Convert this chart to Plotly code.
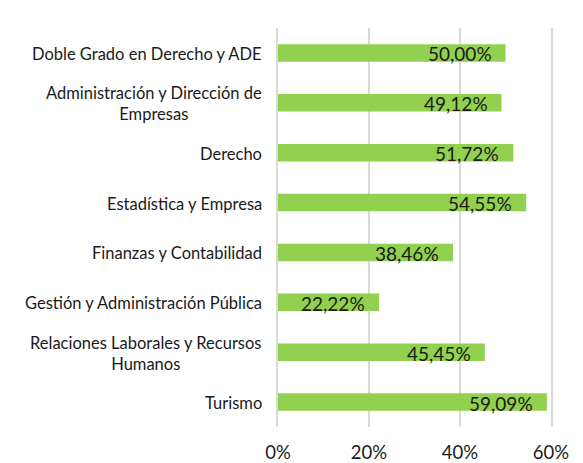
import plotly.graph_objects as go

grados = [
    "Doble Grado en Derecho y ADE",
    "Administración y Dirección de<br>Empresas",
    "Derecho",
    "Estadística y Empresa",
    "Finanzas y Contabilidad",
    "Gestión y Administración Pública",
    "Relaciones Laborales y Recursos<br>Humanos",
    "Turismo",
]
porcentajes = [0.5000, 0.4912, 0.5172, 0.5455, 0.3846, 0.2222, 0.4545, 0.5909]
ticks_x = [0, 0.2, 0.4, 0.6]
ticks_x_text = ["0%", "20%", "40%", "60%"]

FONT = "Lato, Carlito, Calibri, sans-serif"
GRID = "#D9D9D9"

fig = go.Figure(
    go.Bar(
        x=porcentajes,
        y=grados,
        orientation="h",
        marker=dict(color="#92D050", line=dict(width=0)),
        hoverinfo="skip",
    )
)

# category labels, centred multi-line text to the left of the bars
annotations = []
for g in grados:
    annotations.append(dict(
        x=0, xref="paper", y=g, yref="y", text=g, showarrow=False,
        xanchor="right", yanchor="middle", align="center", xshift=-14,
        yshift=-1,
        font=dict(family=FONT, size=16.5, color="#1a1a1a"),
    ))
# value labels inside the end of each bar
for g, v in zip(grados, porcentajes):
    annotations.append(dict(
        x=v, xref="x", y=g, yref="y",
        text=f"{v * 100:.2f}%".replace(".", ","), showarrow=False,
        xanchor="right", yanchor="middle", xshift=-12, yshift=-1,
        font=dict(family=FONT, size=19, color="#1a1a1a"),
    ))

fig.update_layout(
    width=583, height=463,
    margin=dict(l=278, r=32, t=28, b=36),
    paper_bgcolor="white", plot_bgcolor="white",
    bargap=0.65, showlegend=False,
    annotations=annotations,
    font=dict(family=FONT, color="#1a1a1a"),
)
fig.update_xaxes(
    range=[0, 0.6], tickvals=ticks_x, ticktext=ticks_x_text,
    showgrid=True, gridcolor=GRID, gridwidth=2,
    zeroline=False, showline=False, automargin=False,
    ticks="outside", ticklen=9, tickcolor="rgba(0,0,0,0)",
    tickfont=dict(family=FONT, size=18.5, color="#1a1a1a"),
    fixedrange=True,
)
# the 0% and 60% gridlines sit on the plot edges: draw them as axis lines
fig.update_yaxes(
    autorange="reversed", showticklabels=False, showgrid=False,
    zeroline=False, showline=True, mirror=True, linecolor=GRID,
    linewidth=2, fixedrange=True, automargin=False,
)

fig.write_html("out.html")
